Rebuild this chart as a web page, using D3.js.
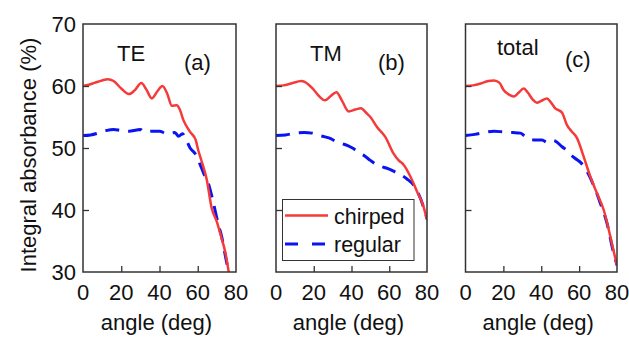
<!DOCTYPE html>
<html>
<head>
<meta charset="utf-8">
<script src="https://cdn.jsdelivr.net/npm/d3@7"></script>
<style>
  body { margin: 0; background: #fff; }
  text { font-family: "Liberation Sans", Arial, sans-serif; fill: #111; }
</style>
</head>
<body>
<div id="chart"></div>
<script>
// angle (deg) / integral absorbance (%)
const teChirpedAngle = [0, 3, 6, 10, 13, 16, 20, 24, 27, 30.5, 33, 36, 39, 41.5, 44, 46.5, 49, 50.5, 52.5, 56, 58.9, 60.3, 62, 64.7, 67.3, 70, 72.5, 74.3, 76.3];
const teChirped = [60, 60.2, 60.5, 60.9, 61.1, 60.8, 59.6, 58.7, 59.3, 60.5, 59.5, 58.0, 59.2, 60.0, 58.8, 56.8, 56.9, 56.3, 54.5, 52.6, 51.3, 49.6, 47.9, 44.9, 40.3, 38.1, 35.4, 33.3, 29.8];
const teRegularAngle = [0, 4, 8, 12, 16, 20, 24, 28, 30, 32, 36, 40, 44, 48, 50, 52, 54, 56, 58.6, 61, 63, 65.5, 68, 70.8, 72.5, 74.2, 75.5, 76.5];
const teRegular = [52, 52.1, 52.4, 52.8, 53.0, 52.8, 52.7, 52.9, 53.0, 52.6, 52.7, 52.7, 52.3, 52.5, 51.9, 52.3, 51.3, 50.0, 49.1, 47.5, 46.0, 44.3, 41.4, 37.6, 35.7, 33.0, 31.0, 29.8];

const tmChirpedAngle = [0, 4, 8, 13.5, 17, 20, 23, 26, 29, 32, 35, 38.5, 42, 45, 48, 50, 53.5, 57.9, 62.3, 65, 67.6, 71.2, 74.7, 78.2, 80];
const tmChirped = [60, 60.1, 60.4, 60.8, 60.3, 59.4, 58.3, 57.7, 58.4, 59.0, 57.6, 55.9, 56.2, 56.4, 55.6, 55.0, 53.4, 51.8, 49.1, 48.0, 47.3, 45.4, 43.0, 40.5, 38.4];
const tmRegularAngle = [0, 5, 10, 15, 19, 22, 26, 29, 32, 35, 38, 41, 44, 47, 50, 53.5, 56, 59, 62, 64, 67, 69.4, 72.9, 76.5, 80];
const tmRegular = [52, 52.1, 52.4, 52.5, 52.4, 52.1, 51.8, 51.5, 51.0, 50.7, 50.4, 49.9, 49.2, 48.7, 48.0, 47.3, 47.0, 46.7, 46.3, 46.0, 45.5, 45.0, 44.0, 41.9, 38.6];

const totChirpedAngle = [0, 4, 8, 12, 15, 18, 20, 23, 25.4, 28, 30.7, 33, 35.5, 37.7, 40, 43, 45.5, 47.4, 49.1, 51, 53.6, 56, 58.9, 62.4, 65.9, 69.4, 73, 76.5, 80];
const totChirped = [60, 60.1, 60.4, 60.8, 60.9, 60.5, 59.4, 58.6, 58.3, 58.9, 59.6, 58.9, 57.8, 57.3, 57.6, 58.0, 57.2, 56.4, 56.1, 55.7, 53.7, 52.7, 51.6, 48.6, 45.4, 42.7, 40.0, 35.7, 31];
const totRegularAngle = [0, 5, 10, 15, 20, 25, 29, 31, 34, 37, 40.4, 43.3, 46.5, 48, 51, 53.6, 56, 58, 61, 64.2, 67.6, 71.2, 74.7, 77.8, 80];
const totRegular = [52, 52.2, 52.5, 52.7, 52.6, 52.5, 52.4, 52.0, 51.4, 51.3, 51.3, 50.9, 51.2, 51.0, 50.2, 49.6, 48.8, 48.3, 47.6, 46.2, 44.0, 41.1, 37.9, 33.6, 31.1];

const xTicks = [0, 20, 40, 60, 80];
const yTicks = [30, 40, 50, 60, 70];
const seriesNames = ['chirped', 'regular'];

const panels = [
  { title: 'TE', tag: '(a)', left: 83, right: 236, chirped: [teChirpedAngle, teChirped], regular: [teRegularAngle, teRegular], titleX: 117, titleY: 61, tagX: 184, tagY: 70 },
  { title: 'TM', tag: '(b)', left: 276, right: 427, chirped: [tmChirpedAngle, tmChirped], regular: [tmRegularAngle, tmRegular], titleX: 310, titleY: 61, tagX: 378, tagY: 70 },
  { title: 'total', tag: '(c)', left: 465.5, right: 617, chirped: [totChirpedAngle, totChirped], regular: [totRegularAngle, totRegular], titleX: 497, titleY: 55, tagX: 565, tagY: 67 }
];

const width = 629, height = 338;
const plotTop = 24, plotBottom = 272;
const red = '#f53a3a', blue = '#0a14f0', frame = '#333';

const svg = d3.select('#chart').append('svg')
  .attr('width', width)
  .attr('height', height);

svg.append('rect').attr('width', width).attr('height', height).attr('fill', '#fff');

const y = d3.scaleLinear().domain([30, 70]).range([plotBottom, plotTop]);

const zip = (a, v) => a.map((d, i) => [d, v[i]]);

panels.forEach((p, idx) => {
  const x = d3.scaleLinear().domain([0, 80]).range([p.left, p.right]);
  const g = svg.append('g');

  const clipId = 'clip' + idx;
  svg.append('clipPath').attr('id', clipId)
    .append('rect')
    .attr('x', p.left).attr('y', plotTop)
    .attr('width', p.right - p.left).attr('height', plotBottom - plotTop);

  const line = d3.line()
    .x(d => x(d[0]))
    .y(d => y(d[1]))
    .curve(d3.curveMonotoneX);

  const lines = g.append('g').attr('clip-path', `url(#${clipId})`);
  lines.append('path')
    .datum(zip(p.regular[0], p.regular[1]))
    .attr('d', line)
    .attr('fill', 'none')
    .attr('stroke', blue)
    .attr('stroke-width', 3)
    .attr('stroke-dasharray', '14,9');
  lines.append('path')
    .datum(zip(p.chirped[0], p.chirped[1]))
    .attr('d', line)
    .attr('fill', 'none')
    .attr('stroke', red)
    .attr('stroke-width', 2.5);

  // inward ticks
  g.append('g')
    .attr('transform', `translate(0,${plotBottom})`)
    .call(d3.axisTop(x).tickValues(xTicks.slice(1, -1)).tickSize(6).tickFormat(''))
    .call(a => a.select('.domain').remove())
    .call(a => a.selectAll('line').attr('stroke', frame).attr('stroke-width', 1.3));
  g.append('g')
    .attr('transform', `translate(${p.left},0)`)
    .call(d3.axisRight(y).tickValues(yTicks.slice(1, -1)).tickSize(6).tickFormat(''))
    .call(a => a.select('.domain').remove())
    .call(a => a.selectAll('line').attr('stroke', frame).attr('stroke-width', 1.3));

  // frame
  g.append('rect')
    .attr('x', p.left).attr('y', plotTop)
    .attr('width', p.right - p.left).attr('height', plotBottom - plotTop)
    .attr('fill', 'none')
    .attr('stroke', frame)
    .attr('stroke-width', 1.5);

  // x tick labels
  g.selectAll('.xlab')
    .data(xTicks)
    .enter().append('text')
    .attr('x', d => x(d))
    .attr('y', 300)
    .attr('text-anchor', 'middle')
    .style('font-size', '22px')
    .text(d => d);

  g.append('text')
    .attr('x', (p.left + p.right) / 2 - 3)
    .attr('y', 330)
    .attr('text-anchor', 'middle')
    .style('font-size', '22px')
    .text('angle (deg)');

  g.append('text').attr('x', p.titleX).attr('y', p.titleY)
    .style('font-size', '22px').text(p.title);
  g.append('text').attr('x', p.tagX).attr('y', p.tagY)
    .style('font-size', '22px').text(p.tag);

  if (idx === 0) {
    g.selectAll('.ylab')
      .data(yTicks)
      .enter().append('text')
      .attr('x', 76)
      .attr('y', d => y(d) + 8)
      .attr('text-anchor', 'end')
      .style('font-size', '22px')
      .text(d => d);
    g.append('text')
      .attr('transform', 'translate(36,155) rotate(-90)')
      .attr('text-anchor', 'middle')
      .style('font-size', '22px')
      .text('Integral absorbance (%)');
  }
});

// legend in panel (b)
const leg = svg.append('g');
leg.append('rect')
  .attr('x', 282.5).attr('y', 199.5)
  .attr('width', 131.5).attr('height', 61)
  .attr('fill', '#fff')
  .attr('stroke', frame)
  .attr('stroke-width', 1);
seriesNames.forEach((name, i) => {
  const ly = 215.5 + i * 28.5;
  leg.append('line')
    .attr('x1', 285).attr('x2', 328)
    .attr('y1', ly).attr('y2', ly)
    .attr('stroke', i === 0 ? red : blue)
    .attr('stroke-width', i === 0 ? 2.5 : 3)
    .attr('stroke-dasharray', i === 0 ? null : '13,14');
  leg.append('text')
    .attr('x', 334).attr('y', ly + 8)
    .style('font-size', '21.5px')
    .text(name);
});
</script>
</body>
</html>
